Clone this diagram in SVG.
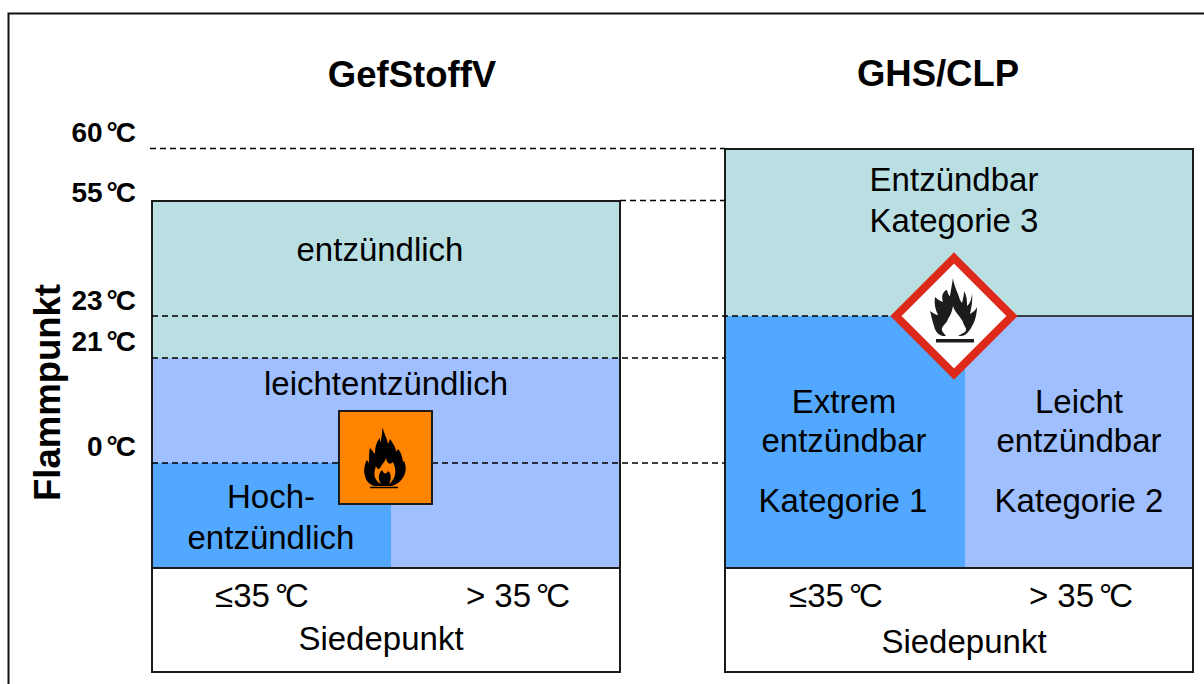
<svg xmlns="http://www.w3.org/2000/svg" width="1204" height="684" viewBox="0 0 1204 684">
<defs>
<style>
text{font-family:"Liberation Sans",Arial,sans-serif;fill:#000}
.t{font-size:33px;text-anchor:middle}
.h{font-size:36.500px;font-weight:bold;text-anchor:middle}
.a{font-size:28px;font-weight:bold;text-anchor:end}
.d{stroke:#000;stroke-width:1.500;stroke-dasharray:6 4;fill:none}
.b{fill:none;stroke:#1a1a1a;stroke-width:2}
</style>
</defs>
<rect width="1204" height="684" fill="#fff"/>
<path d="M8.500 684V13.500H1204" fill="none" stroke="#111" stroke-width="2"/>
<g id="left-table">
<rect x="152" y="201" width="468" height="157" fill="#b9dfe3"/>
<rect x="152" y="358" width="468" height="210" fill="#9fbfff"/>
<rect x="152" y="463" width="239" height="105" fill="#52a8ff"/>
<rect x="152" y="201" width="468" height="471" class="b"/>
<path d="M152 568H620" class="b"/>
<text class="t" x="380" y="261">entzündlich</text>
<text class="t" x="386" y="395">leichtentzündlich</text>
<text class="t" x="271" y="508">Hoch-</text>
<text class="t" x="271" y="549">entzündlich</text>
<text class="t" x="262" y="607">≤35<tspan dx="5 -3">°C</tspan></text>
<text class="t" x="518" y="607">&gt; 35<tspan dx="5 -3">°C</tspan></text>
<text class="t" x="381" y="650">Siedepunkt</text>
</g>
<g id="right-table">
<rect x="725" y="149" width="468" height="167" fill="#b9dfe3"/>
<rect x="725" y="316" width="240" height="252" fill="#52a8ff"/>
<rect x="965" y="316" width="228" height="252" fill="#9fbfff"/>
<rect x="725" y="149" width="468" height="523" class="b"/>
<path d="M725 568H1193" class="b"/>
<text class="t" x="954" y="191">Entzündbar</text>
<text class="t" x="954" y="232">Kategorie 3</text>
<text class="t" x="844" y="413">Extrem</text>
<text class="t" x="844" y="452">entzündbar</text>
<text class="t" x="843" y="512">Kategorie 1</text>
<text class="t" x="1079" y="413">Leicht</text>
<text class="t" x="1079" y="452">entzündbar</text>
<text class="t" x="1079" y="512">Kategorie 2</text>
<text class="t" x="836" y="607">≤35<tspan dx="5 -3">°C</tspan></text>
<text class="t" x="1081" y="607">&gt; 35<tspan dx="5 -3">°C</tspan></text>
<text class="t" x="964" y="653">Siedepunkt</text>
</g>
<g id="connectors">
<path class="d" d="M150 148.500H725"/>
<path class="d" d="M620 200.500H725"/>
<path class="d" d="M152 316H893"/>
<path d="M1016 316H1193" stroke="#111" stroke-width="1.500"/>
<path class="d" d="M152 358H725"/>
<path class="d" d="M152 463H725"/>
</g>
<g id="axis">
<text class="a" x="136" y="142">60<tspan dx="4 -2">°C</tspan></text>
<text class="a" x="136" y="202">55<tspan dx="4 -2">°C</tspan></text>
<text class="a" x="136" y="310">23<tspan dx="4 -2">°C</tspan></text>
<text class="a" x="136" y="351">21<tspan dx="4 -2">°C</tspan></text>
<text class="a" x="136" y="456">0<tspan dx="4 -2">°C</tspan></text>
<text class="h" transform="translate(60 392.500) rotate(-90)">Flammpunkt</text>
</g>
<g id="title-left"><text class="h" x="412" y="87">GefStoffV</text></g>
<g id="title-right"><text class="h" x="938" y="86">GHS/CLP</text></g>
<g id="hazard-orange">
<rect x="339" y="411" width="93" height="93" fill="#ff8400" stroke="#1a1a1a" stroke-width="2"/>
<path fill="#000" d="M382.500 427C384 434 387 438 388 444L390 439C394 445 396 448 396 452L398 449C401 452 402 456 403 462L404 461C407 467 406 474 402 479C400 482 397 484 392 486L374 486C369 484 366 481 365 476C363 470 365 463 367 460L369 463C369 457 369 452 370 448L375 454C375 446 377 441 380 438L380 443C382 438 382 432 382.500 427Z"/>
<path fill="#ff8400" d="M386 458C387 464 390 465 393 462C397 470 396 479 389 484C392 478 391 473 388 471C387 474 384 475 382 470C378 474 378 479 381 484C374 480 373 474 376 466C377 469 379 470 380 468C382 464 385 462 386 458Z"/>
<path stroke="#000" stroke-width="1.500" d="M370 487.500H398"/>
</g>
<g id="hazard-ghs">
<path d="M954 258L1012 316L954 374L896 316Z" fill="#fff" stroke="#de2a1a" stroke-width="8"/>
<path fill="#1c1c1c" d="M953 278C954 287 958 292 960 300L962 303C963 299 964 295 964 291C967 296 967 301 967 306C970 304 972 298 972 293C973 301 971 309 970 314C973 312 976 310 977 307C977 317 973 326 969 331C967 334 964 336 960 336L943 336C938 335 935 331 934 326C932 320 931 314 930 311C933 313 936 315 938 315C935 309 934 303 935 297C937 299 940 301 943 302C941 296 943 291 947 290C948 294 949 296 950 296C951 290 952 284 953 278Z"/>
<path fill="#fff" d="M953 306C955 313 961 317 963 322C964 327 968 328 965 332L958 336L946 336C944 333 941 331 942 328C944 324 947 323 948 319C950 316 952 312 953 306Z"/>
<rect x="936" y="339" width="38" height="3.500" fill="#1c1c1c"/>
</g>
</svg>
